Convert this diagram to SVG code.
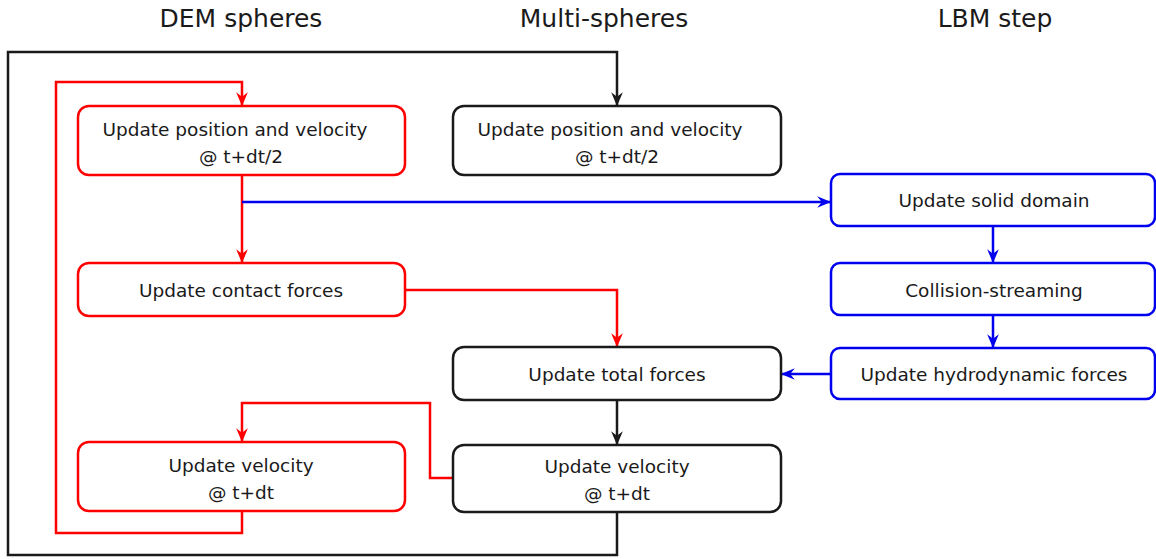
<svg xmlns="http://www.w3.org/2000/svg" width="1156" height="559" viewBox="0 0 1156 559">
<defs>
<style>
.t{font-family:"DejaVu Sans","Liberation Sans",sans-serif;fill:#1a1a1a;text-anchor:middle}
.h{font-size:25px}
.b{font-size:18.5px}
.box{fill:#fff;stroke-width:2.5}
.r{stroke:#ff0000}
.k{stroke:#1a1a1a}
.u{stroke:#0000ee}
.c{fill:none;stroke-width:2.5}
</style>
<marker id="ar" viewBox="0 0 12 12" refX="11" refY="6" markerWidth="14" markerHeight="14" markerUnits="userSpaceOnUse" orient="auto"><path d="M0,1 L12,6 L0,11 L4,6 z" fill="#ff0000"/></marker>
<marker id="ak" viewBox="0 0 12 12" refX="11" refY="6" markerWidth="14" markerHeight="14" markerUnits="userSpaceOnUse" orient="auto"><path d="M0,1 L12,6 L0,11 L4,6 z" fill="#1a1a1a"/></marker>
<marker id="au" viewBox="0 0 12 12" refX="11" refY="6" markerWidth="14" markerHeight="14" markerUnits="userSpaceOnUse" orient="auto"><path d="M0,1 L12,6 L0,11 L4,6 z" fill="#0000ee"/></marker>
</defs>
<rect width="1156" height="559" fill="#fff"/>
<g id="titles">
<text class="t h" x="241" y="27">DEM spheres</text>
<text class="t h" x="604" y="27">Multi-spheres</text>
<text class="t h" x="995" y="27">LBM step</text>
</g>
<g id="connectors">
<path class="c k" d="M617,512 V555 H8 V52 H617 V105" marker-end="url(#ak)"/>
<path class="c r" d="M242,511 V533 H56 V82 H242 V105" marker-end="url(#ar)"/>
<path class="c r" d="M242,175 V262" marker-end="url(#ar)"/>
<path class="c u" d="M242,202 H830" marker-end="url(#au)"/>
<path class="c r" d="M405,290 H617 V346" marker-end="url(#ar)"/>
<path class="c u" d="M831,374 H782" marker-end="url(#au)"/>
<path class="c k" d="M617,400 V444" marker-end="url(#ak)"/>
<path class="c r" d="M453,478 H430 V403 H242 V441" marker-end="url(#ar)"/>
<path class="c u" d="M993,226 V262" marker-end="url(#au)"/>
<path class="c u" d="M993,315 V347" marker-end="url(#au)"/>
</g>
<g id="dem-pos">
<rect class="box r" x="78" y="106" width="327" height="69" rx="11"/>
<text class="t b" x="235" y="136">Update position and velocity</text>
<text class="t b" x="241" y="163">@ t+dt/2</text>
</g>
<g id="dem-contact">
<rect class="box r" x="78" y="263" width="327" height="53" rx="11"/>
<text class="t b" x="241" y="297">Update contact forces</text>
</g>
<g id="dem-vel">
<rect class="box r" x="78" y="442" width="327" height="69" rx="11"/>
<text class="t b" x="241" y="472">Update velocity</text>
<text class="t b" x="241" y="499">@ t+dt</text>
</g>
<g id="ms-pos">
<rect class="box k" x="453" y="106" width="328" height="69" rx="11"/>
<text class="t b" x="610" y="136">Update position and velocity</text>
<text class="t b" x="617" y="163">@ t+dt/2</text>
</g>
<g id="ms-total">
<rect class="box k" x="453" y="347" width="328" height="53" rx="11"/>
<text class="t b" x="617" y="381">Update total forces</text>
</g>
<g id="ms-vel">
<rect class="box k" x="453" y="445" width="328" height="67" rx="11"/>
<text class="t b" x="617" y="473">Update velocity</text>
<text class="t b" x="617" y="500">@ t+dt</text>
</g>
<g id="lbm-solid">
<rect class="box u" x="831" y="174" width="324" height="52" rx="9"/>
<text class="t b" x="994" y="207">Update solid domain</text>
</g>
<g id="lbm-coll">
<rect class="box u" x="831" y="263" width="324" height="52" rx="9"/>
<text class="t b" x="994" y="297">Collision-streaming</text>
</g>
<g id="lbm-hydro">
<rect class="box u" x="831" y="348" width="324" height="51" rx="9"/>
<text class="t b" x="994" y="381">Update hydrodynamic forces</text>
</g>
</svg>
